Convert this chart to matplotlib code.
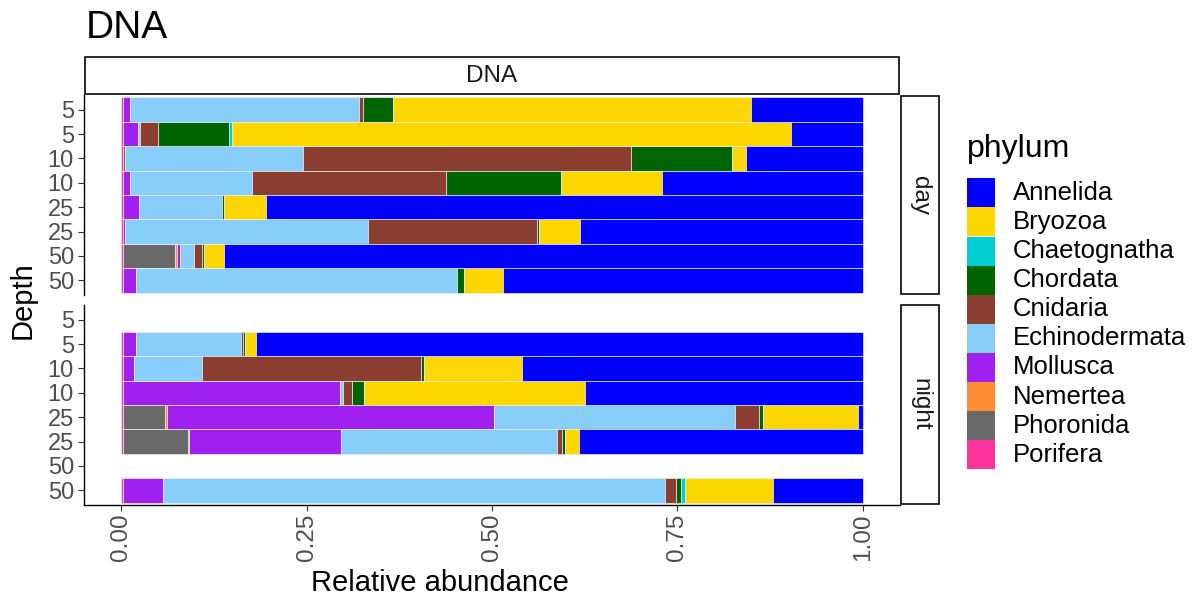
import numpy as np
import matplotlib
matplotlib.use("Agg")
import matplotlib.pyplot as plt
from matplotlib.patches import Rectangle

plt.rcParams['font.family'] = ['Liberation Sans', 'DejaVu Sans']

W, H = 1203, 597

# ---------------- data ----------------
depth_labels = ["5", "5", "10", "10", "25", "25", "50", "50"]
panels = ["day", "night"]

phyla = ["Annelida", "Bryozoa", "Chaetognatha", "Chordata", "Cnidaria",
         "Echinodermata", "Mollusca", "Nemertea", "Phoronida", "Porifera"]
colors = ["#0000FF", "#FFD700", "#00CED1", "#006400", "#8B3E2F",
          "#87CEFA", "#A020F0", "#FD8D34", "#696969", "#FF3399"]

# relative abundance per sample: 8 day samples, then 8 night samples (top to bottom)
Porifera      = [0.002, 0.002, 0.002, 0.002, 0.002, 0.002, 0.002, 0.002,
                 0.0, 0.002, 0.002, 0.002, 0.002, 0.0025, 0.0, 0.002]
Phoronida     = [0.0, 0.0, 0.003, 0.0, 0.0, 0.0, 0.0713, 0.0,
                 0.0, 0.0, 0.0, 0.0, 0.0578, 0.0874, 0.0, 0.0]
Nemertea      = [0.0, 0.0, 0.0, 0.0, 0.0, 0.0, 0.0017, 0.0,
                 0.0, 0.0, 0.0, 0.0, 0.0027, 0.0022, 0.0, 0.0]
Mollusca      = [0.010, 0.0204, 0.0, 0.010, 0.0227, 0.003, 0.0046, 0.0182,
                 0.0, 0.0182, 0.0155, 0.2925, 0.4397, 0.2047, 0.0, 0.0542]
Echinodermata = [0.3085, 0.0036, 0.240, 0.1647, 0.111, 0.328, 0.0184, 0.4326,
                 0.0, 0.1408, 0.0922, 0.0045, 0.3251, 0.2912, 0.0, 0.6768]
Cnidaria      = [0.0055, 0.0234, 0.442, 0.2617, 0.0, 0.2277, 0.0108, 0.0,
                 0.0, 0.004, 0.295, 0.012, 0.0328, 0.007, 0.0, 0.0157]
Chordata      = [0.0404, 0.0956, 0.137, 0.1546, 0.0033, 0.0027, 0.0032, 0.009,
                 0.0, 0.0027, 0.0036, 0.0163, 0.0054, 0.004, 0.0, 0.0058]
Chaetognatha  = [0.0, 0.0047, 0.0, 0.0, 0.0, 0.0, 0.0, 0.0,
                 0.0, 0.0, 0.0, 0.0, 0.0, 0.0, 0.0, 0.0055]
Bryozoa       = [0.4821, 0.7528, 0.018, 0.136, 0.0557, 0.0556, 0.027, 0.053,
                 0.0, 0.0135, 0.1327, 0.2987, 0.1282, 0.018, 0.0, 0.119]
Annelida      = [0.1515, 0.0975, 0.158, 0.271, 0.8053, 0.381, 0.861, 0.4852,
                 0.0, 0.8188, 0.459, 0.374, 0.0063, 0.383, 0.0, 0.121]

values = {"Annelida": Annelida, "Bryozoa": Bryozoa, "Chaetognatha": Chaetognatha,
          "Chordata": Chordata, "Cnidaria": Cnidaria, "Echinodermata": Echinodermata,
          "Mollusca": Mollusca, "Nemertea": Nemertea, "Phoronida": Phoronida,
          "Porifera": Porifera}
color_of = dict(zip(phyla, colors))
stack_order = phyla[::-1]  # Porifera drawn first (left), Annelida last (right)

# ---------------- figure ----------------
fig = plt.figure(figsize=(W / 100, H / 100), dpi=100)


def fx(x):
    return x / W


def fy(y):
    return 1 - y / H


panel_l, panel_r = 84, 900
panel_y = {"day": (95, 295), "night": (305, 505)}

axes = {}
for p_i, pname in enumerate(panels):
    top, bot = panel_y[pname]
    ax = fig.add_axes([fx(panel_l), fy(bot), (panel_r - panel_l) / W, (bot - top) / H])
    axes[pname] = ax
    ypos = np.arange(len(depth_labels))
    left = np.zeros(len(depth_labels))
    for ph in stack_order:
        vals = np.array(values[ph][p_i * 8:(p_i + 1) * 8])
        mask = vals > 0
        ax.barh(ypos[mask], vals[mask], left=left[mask], height=1.0,
                color=color_of[ph], edgecolor="#EDEDED", linewidth=0.5)
        left = left + vals
    ax.set_xlim(-0.05, 1.05)
    ax.set_ylim(len(depth_labels) - 1 + 0.6, -0.6)
    ax.set_yticks(ypos)
    ax.set_yticklabels(depth_labels)
    for s in ["top", "right"]:
        ax.spines[s].set_visible(False)
    ax.spines["left"].set_linewidth(1.0)
    ax.spines["left"].set_color("black")
    ax.tick_params(axis="y", length=4.3, width=0.8, color="#333333",
                   labelsize=17, labelcolor="#4D4D4D", pad=3)
    if pname == "day":
        ax.spines["bottom"].set_visible(False)
        ax.set_xticks([])
    else:
        ax.spines["bottom"].set_linewidth(1.0)
        ax.spines["bottom"].set_color("black")
        ax.set_xticks([0, 0.25, 0.5, 0.75, 1.0])
        ax.set_xticklabels(["0.00", "0.25", "0.50", "0.75", "1.00"], rotation=90)
        ax.tick_params(axis="x", length=4.3, width=0.8, color="#333333",
                       labelsize=17.5, labelcolor="#4D4D4D", pad=2)
    ax.set_facecolor("white")

# top strip
fig.add_artist(Rectangle((fx(85), fy(94)), (899 - 85) / W, (94 - 57) / H,
                         transform=fig.transFigure, facecolor="white",
                         edgecolor="#1A1A1A", linewidth=1.3))
fig.text(fx(492), fy(75.5), "DNA", ha="center", va="center", fontsize=17.5,
         color="#1A1A1A")

# right strips
for pname, (t, b) in {"day": (96, 294), "night": (305, 504)}.items():
    fig.add_artist(Rectangle((fx(901), fy(b)), (939 - 901) / W, (b - t) / H,
                             transform=fig.transFigure, facecolor="white",
                             edgecolor="#1A1A1A", linewidth=1.3))
    fig.text(fx(920), fy((t + b) / 2), pname, ha="center", va="center",
             rotation=-90, fontsize=17.5, color="#1A1A1A")

# titles
fig.text(fx(86), fy(38), "DNA", ha="left", va="baseline", fontsize=28, color="black")
fig.text(fx(23), fy(300), "Depth", ha="center", va="center", rotation=90,
         fontsize=21, color="black")
fig.text(fx(440), fy(591), "Relative abundance", ha="center", va="baseline",
         fontsize=21, color="black")

# legend
fig.text(fx(967), fy(157), "phylum", ha="left", va="baseline", fontsize=23,
         color="black")
key_top0, key_h, key_w = 178.3, 29.1, 28
for i, ph in enumerate(phyla):
    t = key_top0 + i * key_h
    fig.add_artist(Rectangle((fx(967), fy(t + key_h)), key_w / W, key_h / H,
                             transform=fig.transFigure, facecolor=color_of[ph],
                             edgecolor="none"))
    fig.text(fx(1013), fy(t + key_h / 2), ph, ha="left", va="center",
             fontsize=18.5, color="black")

fig.savefig("out.png", dpi=100, facecolor="white")
